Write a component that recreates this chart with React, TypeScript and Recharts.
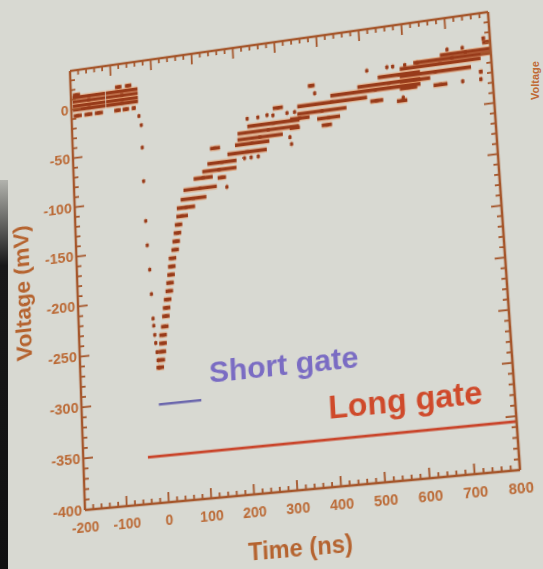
import React from "react";
import {
  ScatterChart,
  Scatter,
  XAxis,
  YAxis,
  ErrorBar,
  ReferenceLine,
  ReferenceDot,
  Label,
} from "recharts";

// each run: [time (ns), voltage (mV), half length of the run (ns)]
type Run = [number, number, number];

const baseline: Run[] = [
  [-186, 14.3, 9], [-82, 16.5, 8], [-57.5, 16.5, 8],
  [-155.5, 11.8, 40.5], [-74, 11.8, 39],
  [-155.5, 7.5, 40.5], [-74, 7.5, 39],
  [-155.5, 3, 40.5], [-74, 3, 39],
  [-155.5, -0.7, 40.5], [-74, -0.7, 39],
  [-184.5, -7.2, 10], [-158, -7.2, 10], [-132, -7.2, 10],
  [-86, -7.2, 8], [-65.5, -7.2, 8], [-46, -7.2, 5],
];

const leadingEdge: Run[] = [
  [-34, -16, 1.5], [-29.2, -25.5, 1.5], [-29, -48.4, 1.5], [-29, -82.5, 1.5],
  [-27.8, -122.7, 1.5], [-26.4, -147.2, 1.5], [-22.8, -171.7, 1.5], [-21, -196.1, 1.5],
  [-19.5, -220.4, 1.5], [-18.5, -227.5, 1.5], [-17, -236.6, 1.5], [-15.4, -244.7, 1.5],
  [-13.1, -253.8, 1.5], [-11.5, -261.9, 1.5], [-9.8, -269, 1.5],
];

const recovery: Run[] = [
  [-7, -269, 9], [-3.9, -261.9, 9], [-0.5, -253.8, 9], [1.9, -245.7, 9],
  [2.9, -237.6, 9], [7.8, -229.5, 9], [11.4, -219.4, 9], [14, -211.3, 9],
  [17.3, -203.2, 9], [22.1, -195.1, 9], [24.7, -187.1, 9], [28, -179.2, 9],
  [30.6, -171.1, 9], [33.1, -163, 9], [40.3, -154.9, 9], [43.6, -146.7, 9],
  [47.6, -138.5, 9], [51, -130.4, 9],
  [60.5, -122.3, 14], [70.5, -114.1, 22], [89.5, -106, 31], [106.5, -96.9, 40],
  [115, -86.8, 23], [159.5, -88.8, 10], [170.5, -98.9, 2], [154.5, -80.7, 41],
  [161.5, -73.6, 35], [215.5, -72.5, 2], [231.5, -72.5, 2], [248.5, -72.5, 2],
  [222.5, -66.5, 47], [146.5, -58.6, 12], [235.5, -58.5, 41], [255, -53.4, 54],
  [325.5, -57.5, 2], [328.5, -64.5, 2], [275, -47.3, 73], [288, -41.3, 62],
  [226.5, -33.4, 2], [252, -33.4, 2], [274, -32.4, 2], [288, -33.4, 2], [321.5, -33, 2], [339.5, -33, 2],
  [300.5, -26.5, 12],
];

const tail: Run[] = [
  [338, -48.7, 12], [413.5, -50, 12], [351, -39.8, 23], [418.5, -43, 27],
  [403.5, -35.5, 58], [428.5, -28, 82], [532.5, -32.6, 15], [591, -35.9, 12],
  [389, -17, 2], [530.5, -21.6, 105], [382, -8.9, 8], [562.5, -16.7, 73],
  [587, -9.8, 49], [513.5, -1.6, 2], [560.5, -0.8, 2], [574, -0.9, 2], [602, -1, 2], [631, -0.6, 2],
  [791, 10.6, 9], [785, 14.6, 4], [701, 8.5, 2], [736, 8.2, 2],
  [742, 3.6, 58], [711, -0.3, 89], [683, -4.5, 93], [671, -11.8, 82], [774.5, -17.7, 4],
  [623.5, -17.1, 35], [681, -25.1, 16], [732, -24.8, 2], [773.5, -25.2, 3],
  [607.5, -24, 20], [594, -33, 2],
];

const shortGate = { from: -14, to: 87, level: -305 };
const longGate = { from: -45, to: 800, level: -355 };

const timeTicks = Array.from({ length: 51 }, (_, i) => -200 + i * 20);
const voltTicks = Array.from({ length: 45 }, (_, i) => -400 + i * 10);

const AXIS = "#a5562b";
const TICK_TEXT = "#bb6a36";
const DOT = "#983b1a";
const GLOW = "#e3894f";
const FONT = '"Liberation Sans", Arial, sans-serif';

const samples = [...baseline, ...leadingEdge, ...recovery, ...tail].map(
  ([t, v, w]) => ({ t, v, w })
);

const Sample = (p: any) => (
  <rect x={p.cx - 1.6} y={p.cy - 1.7} width={3.2} height={3.4} fill={DOT} />
);

const BottomTick = ({ x, y, payload }: any) => {
  const major = payload.value % 100 === 0;
  return (
    <g>
      <line x1={x} y1={y} x2={x} y2={y - (major ? 10 : 5)} stroke={AXIS} strokeWidth={1.8} />
      {major && (
        <text x={x} y={y + 22} textAnchor="middle" fill={TICK_TEXT} fontSize={14} fontWeight={700} fontFamily={FONT}>
          {payload.value}
        </text>
      )}
    </g>
  );
};

const TopTick = ({ x, y, payload }: any) => {
  const major = payload.value % 100 === 0;
  return <line x1={x} y1={y} x2={x} y2={y + (major ? 11 : 5)} stroke={AXIS} strokeWidth={1.8} />;
};

const LeftTick = ({ x, y, payload }: any) => {
  const major = payload.value % 50 === 0;
  return (
    <g>
      <line x1={x} y1={y} x2={x + (major ? 10 : 5)} y2={y} stroke={AXIS} strokeWidth={1.8} />
      {major && payload.value <= 0 && (
        <text x={x - 3} y={y + 5} textAnchor="end" fill={TICK_TEXT} fontSize={15} fontWeight={700} fontFamily={FONT}>
          {payload.value}
        </text>
      )}
    </g>
  );
};

const RightTick = ({ x, y, payload }: any) => {
  const major = payload.value % 50 === 0;
  return <line x1={x} y1={y} x2={x - (major ? 10 : 5)} y2={y} stroke={AXIS} strokeWidth={1.8} />;
};

const axisLine = { stroke: AXIS, strokeWidth: 2.5 };

export default function App() {
  return (
    <div
      style={{
        position: "fixed",
        left: 0,
        top: 0,
        width: 543,
        height: 569,
        overflow: "hidden",
        background: "#d8d9d2",
        fontFamily: FONT,
      }}
    >
      {/* dark bezel edge on the left */}
      <div
        style={{
          position: "absolute",
          left: 0,
          top: 180,
          width: 8,
          height: 389,
          background: "linear-gradient(to bottom, rgba(24,24,24,0.2) 0%, #181818 22%, #101010 100%)",
        }}
      />
      <div
        style={{
          position: "absolute",
          left: 529,
          top: 100,
          transform: "rotate(-90deg)",
          transformOrigin: "0 0",
          fontSize: 11,
          fontWeight: 700,
          color: "#c06a35",
          whiteSpace: "nowrap",
        }}
      >
        Voltage
      </div>
      <div
        style={{
          position: "absolute",
          left: 0,
          top: 0,
          transformOrigin: "0 0",
          transform:
            "matrix3d(0.930117, -0.139754, 0, -0.00010472, 0.026690, 0.939158, 0, -0.00007991, 0, 0, 1, 0, -4.943, 63.397, 0, 1.0099758)",
        }}
      >
        <ScatterChart width={540} height={548} margin={{ top: 0, right: 0, left: 0, bottom: 50 }}>
          <XAxis
            xAxisId="b"
            type="number"
            dataKey="t"
            domain={[-200, 800]}
            allowDataOverflow
            ticks={timeTicks}
            interval={0}
            tick={BottomTick}
            tickLine={false}
            tickSize={0}
            tickMargin={0}
            axisLine={axisLine}
            height={30}
          >
            <Label
              value="Time (ns)"
              position="bottom"
              offset={17}
              style={{ fill: "#b5632f", fontSize: 23, fontWeight: 700, fontFamily: FONT }}
            />
          </XAxis>
          <XAxis
            xAxisId="t"
            orientation="top"
            type="number"
            dataKey="t"
            domain={[-200, 800]}
            allowDataOverflow
            ticks={timeTicks}
            interval={0}
            tick={TopTick}
            tickLine={false}
            tickSize={0}
            tickMargin={0}
            axisLine={axisLine}
            height={20}
          />
          <YAxis
            yAxisId="l"
            type="number"
            dataKey="v"
            domain={[-400, 40]}
            allowDataOverflow
            ticks={voltTicks}
            interval={0}
            tick={LeftTick}
            tickLine={false}
            tickSize={0}
            tickMargin={0}
            axisLine={axisLine}
            width={80}
          >
            <Label
              value="Voltage (mV)"
              angle={-90}
              position="insideLeft"
              offset={22}
              style={{ fill: "#b5632f", fontSize: 23, fontWeight: 700, fontFamily: FONT, textAnchor: "middle" }}
            />
          </YAxis>
          <YAxis
            yAxisId="r"
            orientation="right"
            type="number"
            dataKey="v"
            domain={[-400, 40]}
            allowDataOverflow
            ticks={voltTicks}
            interval={0}
            tick={RightTick}
            tickLine={false}
            tickSize={0}
            tickMargin={0}
            axisLine={axisLine}
            width={34}
          />
          <ReferenceLine
            xAxisId="b"
            yAxisId="l"
            segment={[
              { x: shortGate.from, y: shortGate.level },
              { x: shortGate.to, y: shortGate.level },
            ]}
            stroke="#6c68ad"
            strokeWidth={2.6}
          />
          <ReferenceLine
            xAxisId="b"
            yAxisId="l"
            segment={[
              { x: longGate.from, y: longGate.level },
              { x: longGate.to, y: longGate.level },
            ]}
            stroke="#c9452b"
            strokeWidth={2.8}
          />
          <ReferenceDot
            xAxisId="b"
            yAxisId="l"
            x={282}
            y={-279}
            r={0}
            label={{ value: "Short gate", fill: "#7a6cc3", fontSize: 30, fontWeight: 700, fontFamily: FONT }}
          />
          <ReferenceDot
            xAxisId="b"
            yAxisId="l"
            x={555}
            y={-324.5}
            r={0}
            label={{ value: "Long gate", fill: "#cf4a2b", fontSize: 31, fontWeight: 700, fontFamily: FONT }}
          />
          <Scatter
            data={samples}
            xAxisId="b"
            yAxisId="l"
            dataKey="v"
            shape={Sample}
            isAnimationActive={false}
          >
            <ErrorBar dataKey="w" direction="x" width={0} stroke={GLOW} strokeWidth={6} strokeOpacity={0.5} isAnimationActive={false} />
            <ErrorBar dataKey="w" direction="x" width={0} stroke={DOT} strokeWidth={3.4} isAnimationActive={false} />
          </Scatter>
        </ScatterChart>
      </div>
    </div>
  );
}
